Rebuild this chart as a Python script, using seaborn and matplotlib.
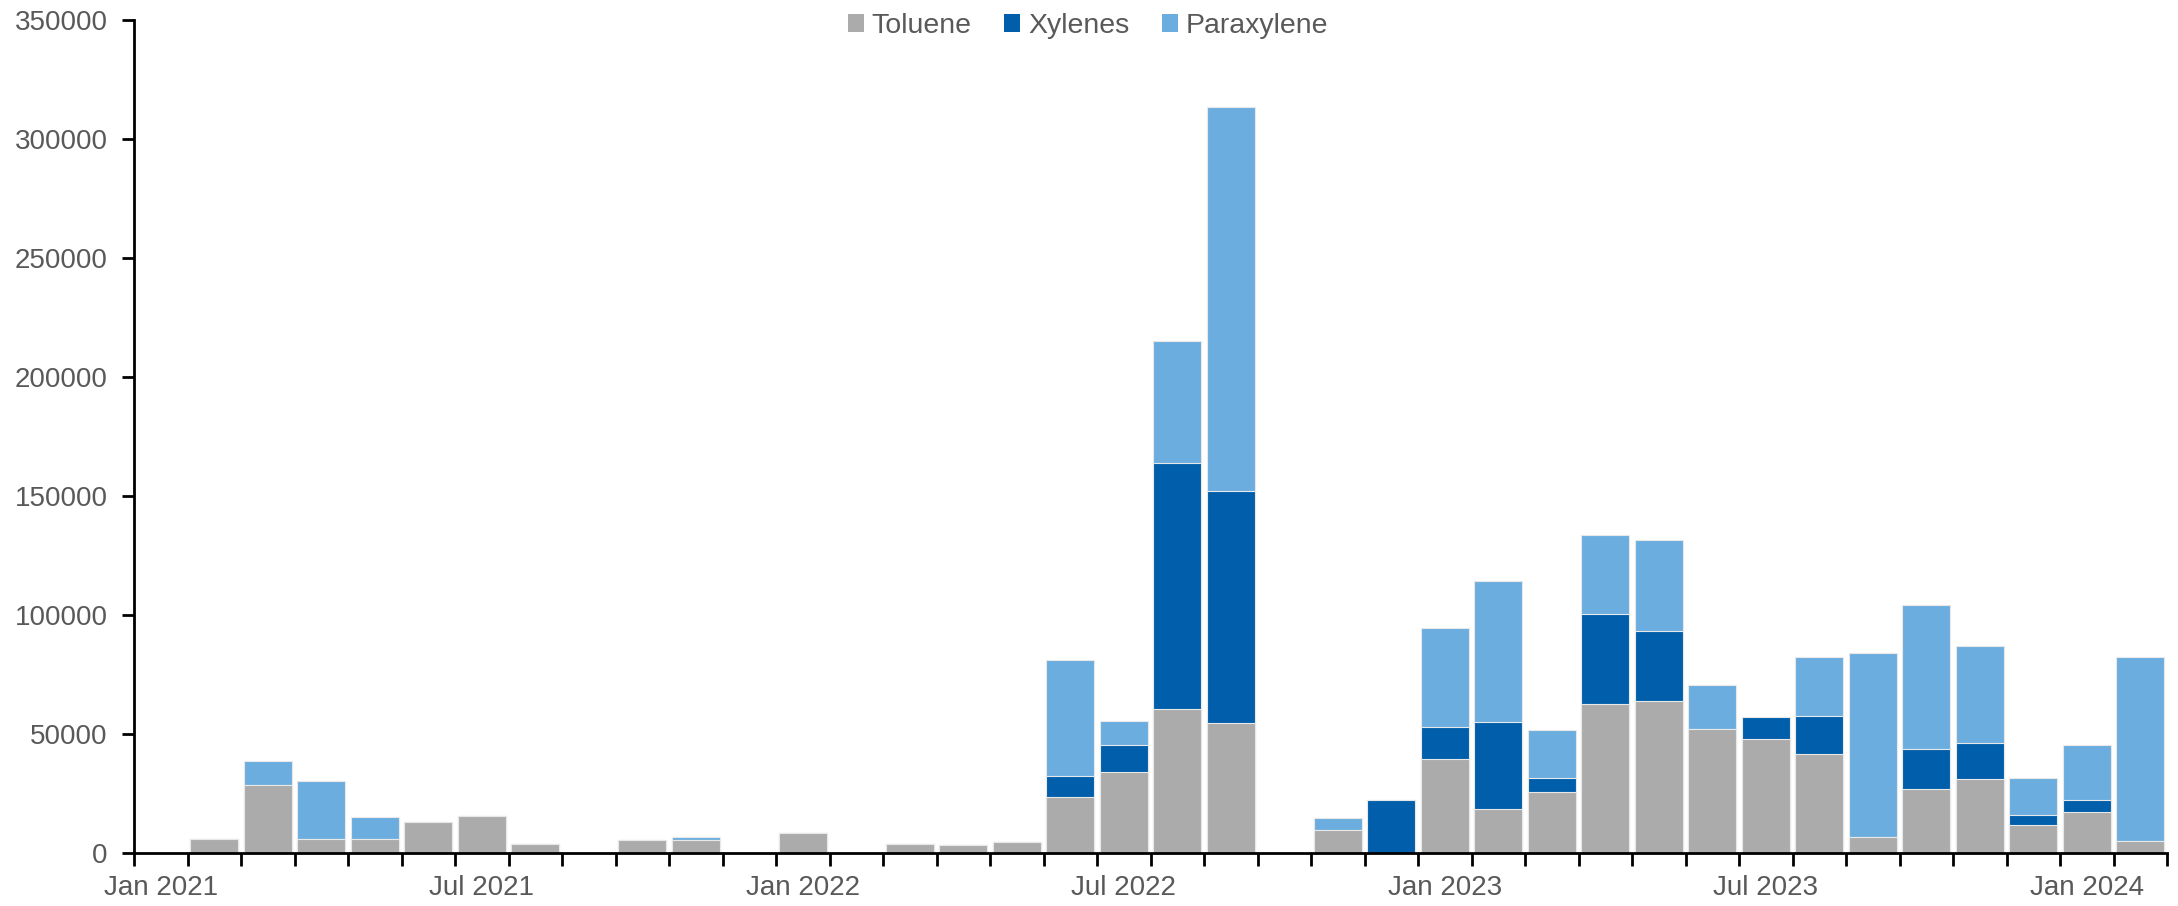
import numpy as np
import pandas as pd
import matplotlib
matplotlib.use("Agg")
import matplotlib.pyplot as plt
from matplotlib.patches import Patch
import seaborn as sns

# Monthly imports, Jan 2021 - Feb 2024
months = [f"{m} {y}" for y in (2021, 2022, 2023, 2024)
          for m in ("Jan", "Feb", "Mar", "Apr", "May", "Jun",
                    "Jul", "Aug", "Sep", "Oct", "Nov", "Dec")][:38]

toluene = [0, 5900, 28600, 5900, 5800, 13000, 15400, 3800, 0, 5600, 5600, 0,
           8300, 0, 3900, 3500, 4500, 23400, 34200, 60700, 54800, 0, 9500, 0,
           39500, 18500, 25800, 62500, 63900, 52000, 48100, 41700, 6700, 27000, 31000, 11800,
           17400, 4900]
xylenes = [0, 0, 0, 0, 0, 0, 0, 0, 0, 0, 0, 0,
           0, 0, 0, 0, 0, 9100, 11300, 103400, 97500, 0, 0, 22300,
           13600, 36700, 5900, 38100, 29600, 0, 9200, 16000, 0, 16700, 15400, 4300,
           5000, 0]
paraxylene = [0, 0, 10100, 24500, 9300, 0, 0, 0, 0, 0, 1100, 0,
              0, 0, 0, 0, 0, 48800, 10000, 51300, 161200, 0, 5200, 0,
              41600, 59100, 20100, 33200, 38100, 18600, 0, 24800, 77500, 60700, 40800, 15300,
              22900, 77500]

series_names = ["Toluene", "Xylenes", "Paraxylene"]
series_colors = ["#ABABAB", "#005EAA", "#6BADDF"]
y_ticks = [0, 50000, 100000, 150000, 200000, 250000, 300000, 350000]
x_label_months = ["Jan 2021", "Jul 2021", "Jan 2022", "Jul 2022",
                  "Jan 2023", "Jul 2023", "Jan 2024"]

df = pd.DataFrame({"month": months, "Toluene": toluene,
                   "Xylenes": xylenes, "Paraxylene": paraxylene})
# cumulative tops for stacking (drawn from the top layer down)
df["top_tol"] = df["Toluene"]
df["top_xyl"] = df["top_tol"] + df["Xylenes"]
df["top_para"] = df["top_xyl"] + df["Paraxylene"]

sns.set_style("white")
plt.rcParams["font.family"] = ["Liberation Sans", "DejaVu Sans"]
text_color = "#595959"

fig = plt.figure(figsize=(21.78, 9.06), dpi=100)
ax = fig.add_axes([134 / 2178, 1 - 853 / 906, (2167 - 134) / 2178, (853 - 20.4) / 906])

for col, color in zip(["top_para", "top_xyl", "top_tol"], series_colors[::-1]):
    sns.barplot(data=df, x="month", y=col, order=months, color=color,
                saturation=1, width=0.9, errorbar=None,
                edgecolor="#E8E8E8", linewidth=0.8, ax=ax)

ax.set_xlim(-0.5, len(months) - 0.5)
ax.set_ylim(0, 350000)
ax.set_xlabel("")
ax.set_ylabel("")

# y axis
ax.set_yticks(y_ticks)
ax.set_yticklabels([str(v) for v in y_ticks])
ax.tick_params(axis="y", which="major", direction="out", length=9, width=2,
               color="black", pad=10, labelsize=20, labelcolor=text_color, left=True)

# x axis: ticks on month boundaries, labels centred on Jan / Jul months
ax.set_xticks(np.arange(-0.5, len(months), 1.0))
ax.set_xticklabels([])
ax.set_xticks([months.index(m) for m in x_label_months], minor=True)
ax.set_xticklabels(x_label_months, minor=True)
ax.tick_params(axis="x", which="major", direction="out", length=9, width=2,
               color="black", bottom=True)
ax.tick_params(axis="x", which="minor", length=0, pad=16, labelsize=20,
               labelcolor=text_color, bottom=True)

for side in ("top", "right"):
    ax.spines[side].set_visible(False)
for side in ("left", "bottom"):
    ax.spines[side].set_color("black")
    ax.spines[side].set_linewidth(2)
    ax.spines[side].set_zorder(5)
ax.grid(False)

handles = [Patch(facecolor=c, edgecolor="none") for c in series_colors]
fig.legend(handles, series_names, loc="center", bbox_to_anchor=(1088 / 2178, 1 - 26 / 906),
           ncol=3, frameon=False, fontsize=20.5, labelcolor=text_color,
           handlelength=0.55, handleheight=0.55, handletextpad=0.28,
           columnspacing=1.15, borderaxespad=0)

fig.savefig("out.png", dpi=100, facecolor="white")
